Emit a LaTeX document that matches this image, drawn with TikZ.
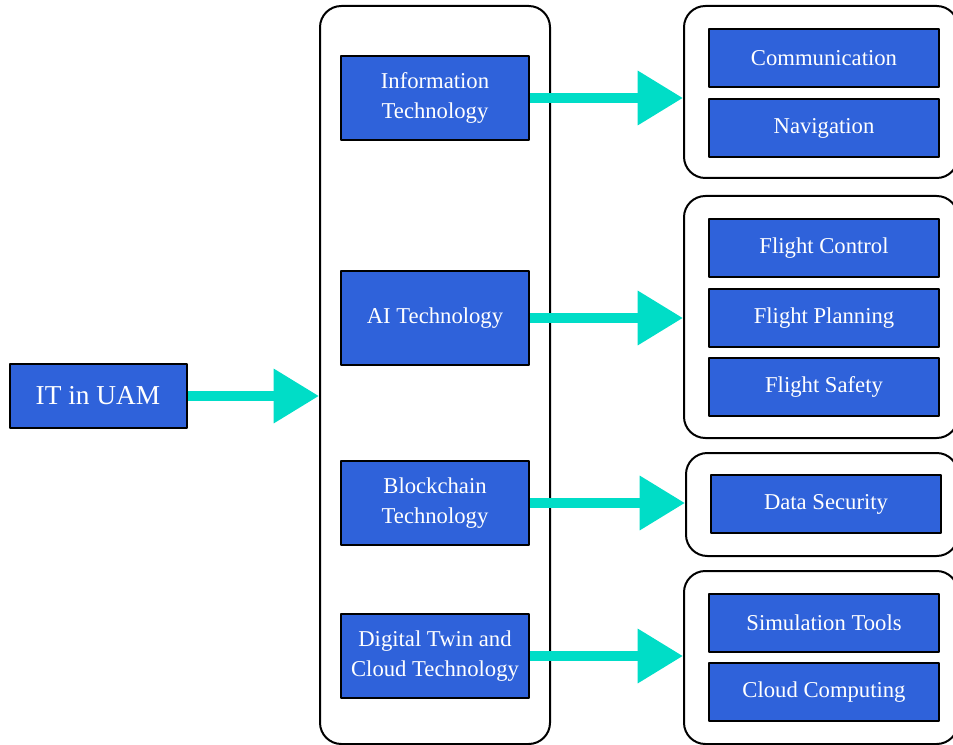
\documentclass[tikz,border=0pt]{standalone}
\usepackage{fontspec}
\setmainfont{Liberation Serif}
\usetikzlibrary{arrows.meta}
\definecolor{BoxBlue}{HTML}{2F62DA}
\definecolor{Flow}{HTML}{00DDC7}

\begin{document}
\begin{tikzpicture}[x=0.75pt,y=-0.75pt,line cap=round,line join=round,
    box/.style={draw=black,line width=1.5pt,fill=BoxBlue,text=white,inner sep=0pt,
        align=center,font=\fontsize{17}{22.5}\selectfont},
    techbox/.style={box,minimum width=141pt,minimum height=63pt},
    usebox/.style={box,minimum width=172.5pt,minimum height=44pt},
    group/.style={draw=black,line width=1.5pt,rounded corners=16pt,inner sep=0pt},
    flow/.style={draw=Flow,line width=7.5pt,line cap=butt,-{Triangle[length=34pt,width=39pt]}}]
    \clip (0,0) rectangle (953,745);

    % containers
    \node[group,minimum width=172.5pt,minimum height=553.5pt] (mid) at (435,375) {};
    \node[group,minimum width=205.5pt,minimum height=129pt] (gA) at (821,92) {};
    \node[group,minimum width=205.5pt,minimum height=181.5pt] (gB) at (821,317) {};
    \node[group,minimum width=204pt,minimum height=77.25pt] (gC) at (822,504.5) {};
    \node[group,minimum width=205.5pt,minimum height=129.75pt] (gD) at (821,657.5) {};

    % root
    \node[box,minimum width=132.75pt,minimum height=48pt,font=\fontsize{20.5}{22}\selectfont] (it) at (98,396) {IT in UAM};

    % technologies
    \node[techbox] (info) at (435,98) {Information\\Technology};
    \node[techbox,minimum height=70pt] (ai) at (435,318) {AI Technology};
    \node[techbox] (chain) at (435,503) {Blockchain\\Technology};
    \node[techbox] (twin) at (435,656) {Digital Twin and\\Cloud Technology};

    % applications
    \node[usebox] (comm) at (824,58) {Communication};
    \node[usebox] (nav) at (824,128) {Navigation};
    \node[usebox] (ctrl) at (824,248) {Flight Control};
    \node[usebox] (plan) at (824,318) {Flight Planning};
    \node[usebox] (safe) at (824,387) {Flight Safety};
    \node[usebox] (sec) at (826,504) {Data Security};
    \node[usebox] (sim) at (824,623) {Simulation Tools};
    \node[usebox] (cloud) at (824,692) {Cloud Computing};

    % arrows
    \draw[flow] (it.east) -- (it.east -| mid.west);
    \draw[flow] (info.east) -- (info.east -| gA.west);
    \draw[flow] (ai.east) -- (ai.east -| gB.west);
    \draw[flow] (chain.east) -- (chain.east -| gC.west);
    \draw[flow] (twin.east) -- (twin.east -| gD.west);
\end{tikzpicture}
\end{document}
